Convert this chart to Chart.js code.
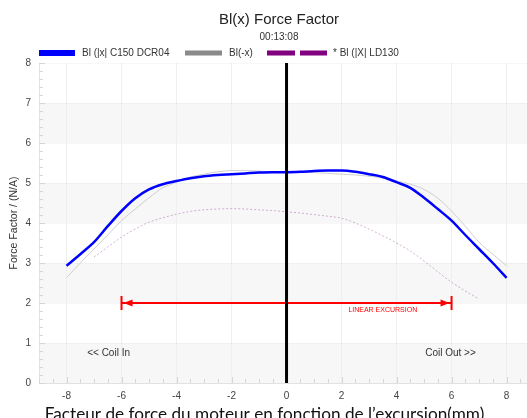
<!DOCTYPE html>
<html>
<head>
<meta charset="utf-8">
<script src="https://cdn.jsdelivr.net/npm/chart.js@4.4.1/dist/chart.umd.min.js"></script>
<style>
    html, body { margin: 0; padding: 0; overflow: hidden; background: #fff; }
    #wrap { width: 558px; height: 418px; position: relative; }
</style>
</head>
<body>
<div id="wrap"><canvas id="bl-chart"></canvas></div>
<script>
// excursion in mm
const excursion = [-8, -7.5, -7, -6.5, -6, -5.5, -5, -4.5, -4, -3.5, -3, -2.5, -2, -1.5, -1, -0.5,
    0, 0.5, 1, 1.5, 2, 2.5, 3, 3.5, 4, 4.5, 5, 5.5, 6, 6.5, 7, 7.5, 8];
const blC150 = [2.93, 3.22, 3.52, 3.92, 4.30, 4.62, 4.84, 4.97, 5.05, 5.12, 5.17, 5.20, 5.22, 5.24, 5.26, 5.27,
    5.27, 5.28, 5.30, 5.31, 5.31, 5.28, 5.22, 5.15, 5.02, 4.88, 4.63, 4.35, 4.06, 3.70, 3.35, 3.00, 2.63];
const blMinusX = [2.63, 3.00, 3.35, 3.70, 4.06, 4.35, 4.63, 4.88, 5.02, 5.15, 5.22, 5.28, 5.31, 5.31, 5.30, 5.28,
    5.27, 5.27, 5.26, 5.24, 5.22, 5.20, 5.17, 5.12, 5.05, 4.97, 4.84, 4.62, 4.30, 3.92, 3.52, 3.22, 2.93];

const ldExcursion = [-7, -6.5, -6, -5.5, -5, -4.5, -4, -3.5, -3, -2.5, -2, -1.5, -1, -0.5,
    0, 0.5, 1, 1.5, 2, 2.5, 3, 3.5, 4, 4.5, 5, 5.5, 6, 6.5, 7];
const blLD130 = [3.15, 3.40, 3.65, 3.85, 4.02, 4.13, 4.22, 4.29, 4.33, 4.35, 4.36, 4.35, 4.33, 4.31,
    4.28, 4.25, 4.21, 4.17, 4.12, 4.00, 3.85, 3.68, 3.50, 3.30, 3.05, 2.78, 2.52, 2.30, 2.10];

const linearX = [-6, 6];
const linearY = [2, 2];
const zeroX = [0, 0];
const zeroY = [0, 8];

const xTickValues = [-8, -6, -4, -2, 0, 2, 4, 6, 8];
const yTickValues = [0, 1, 2, 3, 4, 5, 6, 7, 8];

const seriesNames = ['Bl (|x| C150 DCR04', 'Bl(-x)', '* Bl (|X| LD130'];

function toPoints(xs, ys) {
    return xs.map((x, i) => ({ x: x, y: ys[i] }));
}

const FONT = '"Liberation Sans", Arial, sans-serif';

// bands, inner minor ticks, arrow, labels, legend
const decorPlugin = {
    id: 'decor',
    beforeDraw(chart) {
        const { ctx, chartArea: a, scales: { y } } = chart;
        ctx.save();
        ctx.fillStyle = '#f7f7f7';
        for (let v = 0; v < 8; v += 2) {
            const top = y.getPixelForValue(v + 1);
            const bot = y.getPixelForValue(v);
            ctx.fillRect(a.left, top, a.right - a.left, bot - top);
        }
        ctx.restore();
    },
    beforeDatasetsDraw(chart) {
        const { ctx, chartArea: a, scales: { x, y } } = chart;
        ctx.save();
        ctx.strokeStyle = '#d6d6d6';
        ctx.lineWidth = 1;
        ctx.beginPath();
        for (let i = 0; i <= 40; i++) {
            const v = i * 0.2;
            const py = Math.round(y.getPixelForValue(v)) + 0.5;
            const len = (i % 5 === 0) ? 6 : 4;
            ctx.moveTo(a.left, py);
            ctx.lineTo(a.left + len, py);
        }
        for (let i = -18; i <= 19; i++) {
            const v = i * 0.5;
            const px = Math.round(x.getPixelForValue(v)) + 0.5;
            const len = (i % 4 === 0) ? 6 : 4;
            ctx.moveTo(px, a.bottom);
            ctx.lineTo(px, a.bottom - len);
        }
        ctx.stroke();
        ctx.restore();
    },
    afterDatasetsDraw(chart) {
        const { ctx, scales: { x, y } } = chart;
        ctx.save();
        // linear excursion arrow ends
        const x0 = x.getPixelForValue(linearX[0]);
        const x1 = x.getPixelForValue(linearX[1]);
        const py = y.getPixelForValue(linearY[0]);
        ctx.strokeStyle = '#ff0000';
        ctx.fillStyle = '#ff0000';
        ctx.lineWidth = 2;
        ctx.beginPath();
        ctx.moveTo(x0, py - 7); ctx.lineTo(x0, py + 7);
        ctx.moveTo(x1, py - 7); ctx.lineTo(x1, py + 7);
        ctx.stroke();
        ctx.beginPath();
        ctx.moveTo(x0 + 2, py); ctx.lineTo(x0 + 11, py - 3.5); ctx.lineTo(x0 + 11, py + 3.5); ctx.closePath();
        ctx.moveTo(x1 - 2, py); ctx.lineTo(x1 - 11, py - 3.5); ctx.lineTo(x1 - 11, py + 3.5); ctx.closePath();
        ctx.fill();
        ctx.font = '7px ' + FONT;
        ctx.textAlign = 'center';
        ctx.textBaseline = 'middle';
        ctx.fillText('LINEAR EXCURSION', x.getPixelForValue(3.5), y.getPixelForValue(1.82));

        ctx.fillStyle = '#333';
        ctx.font = '10px ' + FONT;
        ctx.fillText('<< Coil In', x.getPixelForValue(-6.47), y.getPixelForValue(0.75));
        ctx.fillText('Coil Out >>', x.getPixelForValue(5.96), y.getPixelForValue(0.75));
        ctx.restore();
    },
    afterDraw(chart) {
        const ctx = chart.ctx;
        ctx.save();
        // legend
        const ly = 53;
        ctx.lineCap = 'butt';
        ctx.strokeStyle = '#0000ff';
        ctx.lineWidth = 6;
        ctx.beginPath(); ctx.moveTo(39, ly); ctx.lineTo(75, ly); ctx.stroke();
        ctx.strokeStyle = '#8a8a8a';
        ctx.lineWidth = 5;
        ctx.beginPath(); ctx.moveTo(185, ly); ctx.lineTo(222, ly); ctx.stroke();
        ctx.strokeStyle = '#800080';
        ctx.beginPath();
        ctx.moveTo(267, ly); ctx.lineTo(295, ly);
        ctx.moveTo(300, ly); ctx.lineTo(327, ly);
        ctx.stroke();
        ctx.fillStyle = '#333';
        ctx.font = '10px ' + FONT;
        ctx.textBaseline = 'middle';
        ctx.fillText(seriesNames[0], 82, ly);
        ctx.fillText(seriesNames[1], 229, ly);
        ctx.fillText(seriesNames[2], 333, ly);

        // axis caption under the chart
        ctx.fillStyle = '#111';
        ctx.font = '17.2px Lato, "Open Sans", sans-serif';
        ctx.textAlign = 'center';
        ctx.textBaseline = 'alphabetic';
        ctx.fillText('Facteur de force du moteur en fonction de l\u2019excursion(mm)', 264.5, 420);
        ctx.restore();
    }
};

const ctx = document.getElementById('bl-chart').getContext('2d');

const blChart = new Chart(ctx, {
    type: 'line',
    data: {
        datasets: [
            {
                label: 'zero',
                data: toPoints(zeroX, zeroY),
                borderColor: '#000',
                borderWidth: 3,
                pointRadius: 0,
                order: 0
            },
            {
                label: seriesNames[0],
                data: toPoints(excursion, blC150),
                borderColor: '#0000ff',
                borderWidth: 2.5,
                pointRadius: 0,
                cubicInterpolationMode: 'monotone',
                order: 1
            },
            {
                label: 'linear excursion',
                data: toPoints(linearX, linearY),
                borderColor: '#ff0000',
                borderWidth: 2,
                pointRadius: 0,
                order: 2
            },
            {
                label: seriesNames[1],
                data: toPoints(excursion, blMinusX),
                borderColor: '#cfcfcf',
                borderWidth: 1,
                pointRadius: 0,
                cubicInterpolationMode: 'monotone',
                order: 3
            },
            {
                label: seriesNames[2],
                data: toPoints(ldExcursion, blLD130),
                borderColor: 'rgba(150, 60, 150, 0.4)',
                borderWidth: 1,
                borderDash: [2, 2],
                pointRadius: 0,
                cubicInterpolationMode: 'monotone',
                order: 4
            }
        ]
    },
    options: {
        responsive: true,
        maintainAspectRatio: false,
        animation: false,
        layout: { padding: 0 },
        scales: {
            x: {
                type: 'linear',
                min: -9,
                max: 9.87,
                afterFit: (s) => { s.height = 35; },
                afterBuildTicks: (s) => { s.ticks = xTickValues.map(v => ({ value: v })); },
                border: { color: '#e2e2e2' },
                grid: { drawTicks: false, color: '#efefef' },
                ticks: { padding: 7, color: '#444', font: { family: FONT, size: 10 } }
            },
            y: {
                min: 0,
                max: 8,
                afterFit: (s) => { s.width = 39; },
                afterBuildTicks: (s) => { s.ticks = yTickValues.map(v => ({ value: v })); },
                border: { color: '#e2e2e2' },
                grid: { drawTicks: false, color: 'rgba(0,0,0,0.03)' },
                ticks: { padding: 8, color: '#444', font: { family: FONT, size: 10 } },
                title: {
                    display: true,
                    text: 'Force Factor / (N/A)',
                    color: '#333',
                    font: { family: FONT, size: 10.5 },
                    padding: { top: 8, bottom: 0 }
                }
            }
        },
        plugins: {
            legend: { display: false },
            tooltip: { enabled: false },
            title: {
                display: true,
                text: 'Bl(x) Force Factor',
                color: '#222',
                font: { family: FONT, size: 15, weight: 'normal' },
                padding: { top: 11, bottom: 2 }
            },
            subtitle: {
                display: true,
                text: '00:13:08',
                color: '#333',
                font: { family: FONT, size: 10 },
                padding: { top: 0, bottom: 20 }
            }
        }
    },
    plugins: [decorPlugin]
});
</script>
</body>
</html>
